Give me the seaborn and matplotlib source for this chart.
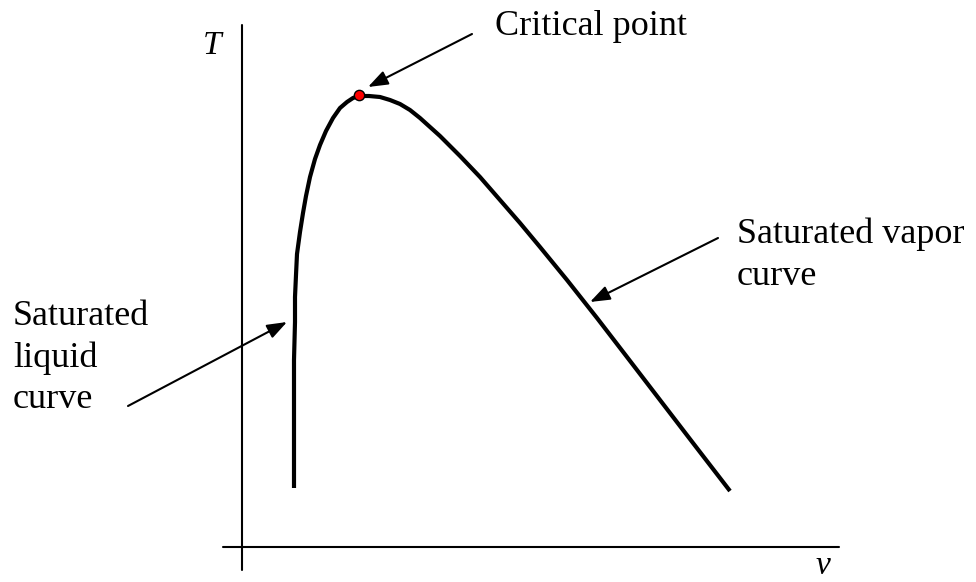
import matplotlib
matplotlib.use("Agg")
import matplotlib.pyplot as plt
import pandas as pd
import seaborn as sns

# Saturation dome (v, T in arbitrary units)
v_sat = [0.52, 0.52, 0.52, 0.53, 0.53, 0.54, 0.55, 0.58, 0.61, 0.64, 0.68, 0.73,
         0.78, 0.84, 0.91, 0.98, 1.05, 1.11, 1.17, 1.27, 1.38, 1.48, 1.58, 1.68,
         1.78, 1.98, 2.18, 2.38, 2.58, 2.78, 2.98, 3.25, 3.55, 3.85, 4.18, 4.51,
         4.88]
T_sat = [0.59, 1.27, 1.87, 2.25, 2.50, 2.72, 2.93, 3.15, 3.34, 3.51, 3.70, 3.88,
         4.02, 4.16, 4.29, 4.39, 4.45, 4.49, 4.51, 4.51, 4.50, 4.47, 4.43, 4.37,
         4.29, 4.11, 3.91, 3.70, 3.47, 3.24, 3.00, 2.67, 2.29, 1.90, 1.47, 1.04,
         0.56]

# Critical point
v_crit = [1.17]
T_crit = [4.52]

# Labels: text, arrow tail (v, T), arrow head (v, T)
labels = ["Critical point", "Saturated vapor\ncurve", "Saturated\nliquid\ncurve"]
label_pos = [(2.53, 5.37), (4.95, 3.29), (-2.29, 2.47)]
arrow_tail = [(2.30, 5.13), (4.76, 3.09), (-1.14, 1.41)]
arrow_head = [(1.26, 4.60), (3.48, 2.45), (0.45, 2.25)]

sat = pd.DataFrame({"v": v_sat, "T": T_sat})
crit = pd.DataFrame({"v": v_crit, "T": T_crit})

sns.set_style("white")
plt.rcParams["font.family"] = ["Liberation Serif", "DejaVu Serif"]
plt.rcParams["text.color"] = "black"

fig = plt.figure(figsize=(9.76, 5.82), dpi=100)
ax = fig.add_axes([0, 0, 1, 1])
ax.set_xlim(-2.42, 7.34)
ax.set_ylim(-0.35, 5.47)
ax.axis("off")

# Hand-drawn style axes
ax.plot([0, 0], [-0.23, 5.22], color="black", lw=1.5)
ax.plot([-0.19, 5.97], [0, 0], color="black", lw=1.5)
ax.text(-0.30, 5.16, "T", fontsize=24, fontstyle="italic", ha="center", va="top")
ax.text(5.81, -0.27, "v", fontsize=24, fontstyle="italic", ha="center", va="baseline")

# Saturation curve and critical point
sns.lineplot(data=sat, x="v", y="T", sort=False, estimator=None, color="black",
             lw=3, solid_joinstyle="round", solid_capstyle="butt", ax=ax)
sns.scatterplot(data=crit, x="v", y="T", color="red", edgecolor="black",
                linewidth=1, s=55, zorder=5, ax=ax)

for text, pos, tail, head in zip(labels, label_pos, arrow_tail, arrow_head):
    ax.text(pos[0], pos[1], text, fontsize=26, ha="left", va="top",
            linespacing=1.33, color="black")
    ax.annotate("", xy=head, xytext=tail,
                arrowprops=dict(arrowstyle="-|>,head_length=0.6,head_width=0.22",
                                mutation_scale=20, color="black", lw=1.5,
                                shrinkA=0, shrinkB=0))

ax.set_xlabel("")
ax.set_ylabel("")
fig.savefig("out.png", dpi=100)
